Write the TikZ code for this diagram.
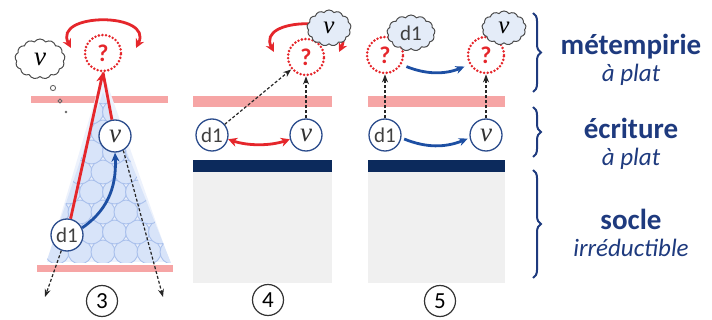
\documentclass[tikz,border=0pt]{standalone}
\usepackage{fontspec}
\setmainfont{Carlito}
\newfontfamily\vfont{Liberation Serif}
\usetikzlibrary{shapes.symbols,arrows.meta,decorations.pathreplacing,calc}
\definecolor{myred}{HTML}{E5262B}
\definecolor{pinkband}{HTML}{F6A5A5}
\definecolor{navyband}{HTML}{0C2A5C}
\definecolor{grayfill}{HTML}{F0F0F0}
\definecolor{nodeblue}{HTML}{2B4C8C}
\definecolor{arrowblue}{HTML}{1D4FA3}
\definecolor{textnavy}{HTML}{1E3A7E}
\definecolor{bubblefill}{HTML}{D8E4F9}
\definecolor{bubbleline}{HTML}{A9C0EC}
\definecolor{palefill}{HTML}{EDF2FC}
\definecolor{cloudfill}{HTML}{E4ECF8}
\begin{document}
\begin{tikzpicture}[x=1pt,y=1pt,
  vnode/.style={circle,draw=nodeblue,line width=1.3pt,fill=white,minimum size=32pt,inner sep=0pt,font=\fontsize{27}{27}\vfont\itshape,text=black!80},
  dnode/.style={circle,draw=nodeblue,line width=1.3pt,fill=white,minimum size=32pt,inner sep=0pt,font=\fontsize{21}{21}\selectfont,text=black!75},
  qnode/.style={circle,draw=myred,line width=2.8pt,dash pattern=on 0pt off 3.6pt,line cap=round,minimum size=36pt,inner sep=0pt,text=myred,font=\fontsize{24}{24}\selectfont\bfseries},
  cloudnode/.style={cloud,cloud puffs=13,cloud puff arc=110,aspect=1.3,draw=black!70,line width=1pt,inner sep=0pt},
  numnode/.style={circle,draw=black!80,line width=1.2pt,minimum size=31pt,inner sep=0pt,font=\fontsize{23}{23}\selectfont},
  redline/.style={draw=myred,line width=2.8pt},
  redarrow/.style={draw=myred,line width=2.8pt,-{Stealth[length=10pt,width=9pt]}},
  loopstyle/.style={draw=myred,line width=2.8pt,{Stealth[length=9pt,width=9pt]}-{Stealth[length=9pt,width=9pt]}},
  bluearrow/.style={draw=arrowblue,line width=2.8pt,-{Stealth[length=9pt,width=8pt]}},
  dasharrow/.style={draw=black!85,line width=1.2pt,dash pattern=on 3pt off 2pt,-{Stealth[length=8pt,width=6pt]}},
  bracestyle/.style={draw=textnavy,line width=2pt,decorate,decoration={brace,amplitude=8pt}},
  bigtxt/.style={font=\fontsize{29}{29}\selectfont\bfseries,text=textnavy,anchor=base,inner sep=0pt,text depth=0pt},
  smalltxt/.style={font=\fontsize{25}{25}\selectfont\itshape,text=textnavy,anchor=base,inner sep=0pt,text height=12pt}
]
\useasboundingbox (0,0) rectangle (712,-320);

% ---------- panel 3 ----------
\fill[pinkband] (31,-96) rectangle (168,-103);
\fill[pinkband] (37,-265) rectangle (173,-272);
\fill[palefill] (103,-72) -- (47,-262) -- (170,-262) -- cycle;
\begin{scope}
  \clip (103,-92) -- (46,-263) -- (171,-263) -- cycle;
  \foreach \j in {0,...,8} {
    \foreach \i in {0,...,7} {
      \pgfmathsetmacro{\xx}{34+\i*23+mod(\j,2)*11.5}
      \pgfmathsetmacro{\yy}{-252+\j*20}
      \filldraw[fill=bubblefill,draw=bubbleline,line width=0.9pt] (\xx,\yy) circle (12);
    }
  }
\end{scope}
\node[qnode] (q3) at (103,-53) {?};
\draw[loopstyle] (71,-48) .. controls (52,-12) and (154,-12) .. (136,-48);
\node[cloudnode,fill=white,minimum width=50pt,minimum height=40pt,font=\fontsize{27}{27}\vfont\itshape] (c3) at (40,-59) {v};
\draw[black!60,line width=0.9pt] (53,-88) circle (2.6);
\draw[black!60,line width=0.9pt] (60,-101) circle (1.9);
\fill[black!60] (66,-112) circle (1.4);
\node[vnode] (v3) at (115,-136) {v};
\node[dnode] (d3) at (67,-235) {d1};
\draw[redline] (v3) -- (q3.south);
\draw[redarrow] (d3) -- (q3.south);
\draw[bluearrow] (d3.25) .. controls (105,-212) and (117,-190) .. (v3.south);
\coordinate (e1) at (45,-297);
\coordinate (e2) at (163,-297);
\draw[dasharrow] (d3.250) -- (e1);
\draw[dasharrow] (v3.300) -- (e2);
\node[numnode] (n3) at (102,-301) {3};

% ---------- panel 4 ----------
\fill[pinkband] (193,-96) rectangle (332,-107);
\fill[navyband] (193,-160) rectangle (332,-172);
\fill[grayfill] (193,-172) rectangle (332,-283);
\node[qnode] (q4) at (306,-57) {?};
\draw[loopstyle] (274,-52) .. controls (255,-16) and (357,-16) .. (339,-52);
\node[cloudnode,fill=cloudfill,minimum width=44pt,minimum height=36pt,font=\fontsize{25}{25}\vfont\itshape] (c4) at (329,-28) {v};
\node[dnode] (d4) at (212,-135) {d1};
\node[vnode] (v4) at (306,-135) {v};
\draw[draw=myred,line width=2.8pt,{Stealth[length=9pt,width=9pt]}-{Stealth[length=9pt,width=9pt]}] (d4.-15) .. controls (248,-146) and (270,-146) .. (v4.195);
\draw[dasharrow] (d4.40) -- (q4.220);
\draw[dasharrow] (v4.north) -- (q4.south);
\node[numnode] (n4) at (268,-300) {4};

% ---------- panel 5 ----------
\fill[pinkband] (368,-96) rectangle (505,-107);
\fill[navyband] (368,-160) rectangle (505,-172);
\fill[grayfill] (368,-172) rectangle (505,-283);
\node[qnode] (q5a) at (385,-55) {?};
\node[qnode] (q5b) at (486,-55) {?};
\node[cloudnode,fill=cloudfill,minimum width=48pt,minimum height=36pt,font=\fontsize{21}{21}\selectfont,text=black!75] (c5a) at (411,-33) {d1};
\node[cloudnode,fill=cloudfill,minimum width=44pt,minimum height=34pt,font=\fontsize{25}{25}\vfont\itshape] (c5b) at (504,-28) {v};
\node[dnode] (d5) at (385,-135) {d1};
\node[vnode] (v5) at (486,-135) {v};
\draw[bluearrow,shorten <=5pt,shorten >=5pt] (q5a.-30) to[bend right=22] (q5b.210);
\draw[bluearrow,shorten <=3pt,shorten >=2pt] (d5.-10) to[bend right=22] (v5.190);
\draw[dasharrow] (d5.north) -- (q5a.south);
\draw[dasharrow] (v5.north) -- (q5b.south);
\node[numnode] (n5) at (440,-301) {5};

% ---------- braces and labels ----------
\draw[bracestyle] (533,-13) -- (533,-92);
\draw[bracestyle] (533,-107) -- (533,-157);
\draw[bracestyle] (533,-170) -- (533,-278);
\node[bigtxt] (t1) at (631,-55) {métempirie};
\node[smalltxt] (t1b) at (631,-82) {à plat};
\node[bigtxt] (t2) at (631,-139) {écriture};
\node[smalltxt] (t2b) at (631,-166) {à plat};
\node[bigtxt] (t3) at (631,-230) {socle};
\node[smalltxt] (t3b) at (631,-257) {irréductible};
\end{tikzpicture}
\end{document}
